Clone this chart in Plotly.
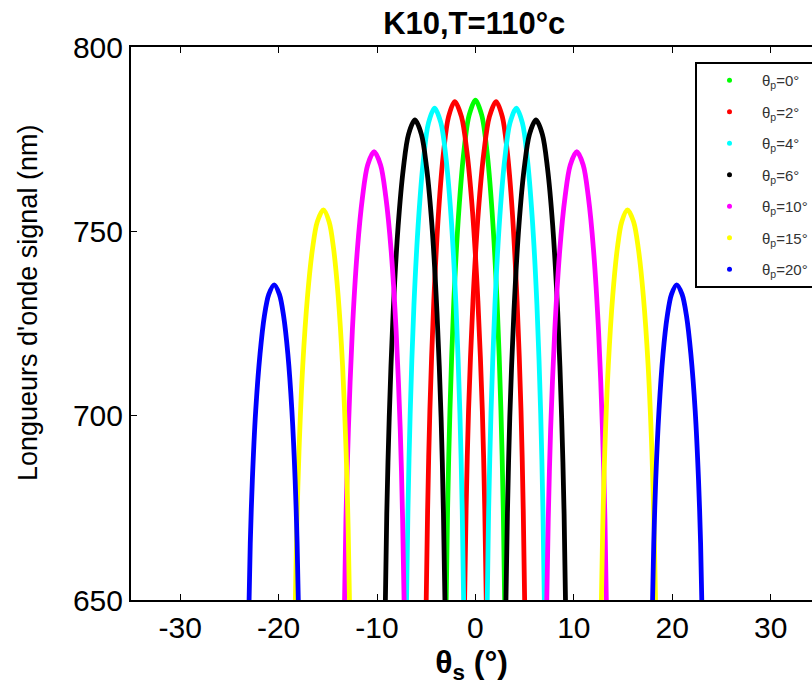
import plotly.graph_objects as go

# Series labels and colours (theta_p values)
names = ["θ<sub>p</sub>=0°", "θ<sub>p</sub>=2°", "θ<sub>p</sub>=4°", "θ<sub>p</sub>=6°",
         "θ<sub>p</sub>=10°", "θ<sub>p</sub>=15°", "θ<sub>p</sub>=20°"]
colors = ["#00ff00", "#ff0000", "#00ffff", "#000000", "#ff00ff", "#ffff00", "#0000ff"]

# Right-hand arch of each series (theta_s in degrees, signal wavelength in nm),
# the left-hand arch is its mirror image (theta_s -> -theta_s).
green_t = [-2.97, -2.83, -2.59, -2.19, -1.68, -1.16, -0.64, 0.0, 0.64, 1.16, 1.68, 2.19, 2.59, 2.83, 2.97]
green_l = [650, 674.4, 701.5, 731.4, 755.8, 772.0, 781.5, 785.6, 781.5, 772.0, 755.8, 731.4, 701.5, 674.4, 650]

red_t = [-1.1, -0.95, -0.7, -0.25, 0.3, 0.87, 1.42, 2.1, 2.73, 3.23, 3.74, 4.23, 4.63, 4.86, 5.0]
red_l = [650, 674.3, 701.4, 731.1, 755.5, 771.7, 781.1, 785.2, 781.1, 771.7, 755.5, 731.1, 701.4, 674.3, 650]

cyan_t = [1.2, 1.34, 1.58, 1.98, 2.48, 3.0, 3.51, 4.15, 4.77, 5.26, 5.76, 6.25, 6.63, 6.86, 7.0]
cyan_l = [650, 674.0, 700.7, 730.0, 754.1, 770.1, 779.4, 783.4, 779.4, 770.1, 754.1, 730.0, 700.7, 674.0, 650]

black_t = [3.1, 3.25, 3.49, 3.91, 4.42, 4.96, 5.49, 6.15, 6.8, 7.32, 7.85, 8.36, 8.76, 9.01, 9.15]
black_l = [650, 673.4, 699.5, 728.1, 751.6, 767.2, 776.3, 780.2, 776.3, 767.2, 751.6, 728.1, 699.5, 673.4, 650]

magenta_t = [7.25, 7.40, 7.64, 8.06, 8.57, 9.11, 9.64, 10.3, 10.95, 11.47, 12.0, 12.51, 12.91, 13.16, 13.3]
magenta_l = [650, 671.9, 696.2, 723.0, 744.9, 759.4, 768.0, 771.6, 768.0, 759.4, 744.9, 723.0, 696.2, 671.9, 650]

yellow_t = [12.8, 12.93, 13.14, 13.5, 13.95, 14.41, 14.87, 15.45, 16.07, 16.56, 17.06, 17.55, 17.93, 18.16, 18.3]
yellow_l = [650, 669.0, 690.2, 713.5, 732.5, 745.2, 752.6, 755.8, 752.6, 745.2, 732.5, 713.5, 690.2, 669.0, 650]

blue_t = [18.0, 18.12, 18.32, 18.65, 19.06, 19.49, 19.92, 20.45, 21.0, 21.45, 21.89, 22.33, 22.67, 22.88, 23.0]
blue_l = [650, 665.4, 682.5, 701.3, 716.7, 727.0, 732.9, 735.5, 732.9, 727.0, 716.7, 701.3, 682.5, 665.4, 650]

series = [(green_t, green_l, False), (red_t, red_l, True), (cyan_t, cyan_l, True),
          (black_t, black_l, True), (magenta_t, magenta_l, True),
          (yellow_t, yellow_l, True), (blue_t, blue_l, True)]

x_ticks = [-30, -20, -10, 0, 10, 20, 30]
x_tick_labels = ["-30", "-20", "-10", "0", "10", "20", "30"]
y_ticks = [650, 700, 750, 800]

fig = go.Figure()
for i, ((t, l, mirrored), name, col) in enumerate(zip(series, names, colors)):
    if mirrored:
        xs = [-v for v in reversed(t)] + [None] + list(t)
        ys = list(reversed(l)) + [None] + list(l)
    else:
        xs, ys = list(t), list(l)
    fig.add_trace(go.Scatter(x=xs, y=ys, mode="lines",
                             line=dict(color=col, width=4.8, shape="spline", smoothing=0.9),
                             showlegend=False, legendgroup=str(i), hoverinfo="skip"))
for i, (name, col) in enumerate(zip(names, colors)):
    fig.add_trace(go.Scatter(x=[None], y=[None], mode="markers", name=name,
                             marker=dict(color=col, size=5), legendgroup=str(i), showlegend=True))

font_family = "Liberation Sans, Arial, sans-serif"
fig.update_layout(
    width=812, height=691,
    margin=dict(l=131, r=0, t=47, b=91, autoexpand=False),
    paper_bgcolor="white", plot_bgcolor="white",
    font=dict(family=font_family, color="black"),
    title=dict(text="<b>K10,T=110°c</b>", xref="paper", x=0.504, xanchor="center",
               yref="container", y=1 - 23 / 691, yanchor="middle",
               font=dict(size=31, family=font_family, color="black")),
    xaxis=dict(range=[-35, 34.2], tickvals=x_ticks, ticktext=x_tick_labels,
               ticks="inside", ticklen=6, tickwidth=1.2,
               tickcolor="black", showline=True, linecolor="black", linewidth=2, mirror="ticks",
               showgrid=False, zeroline=False, tickfont=dict(size=30, family=font_family),
               title=dict(text="<b>θ<sub>s</sub> (°)</b>", font=dict(size=32, family=font_family), standoff=0)),
    yaxis=dict(range=[650, 800], tickvals=y_ticks, ticks="inside", ticklen=6, tickwidth=1.2,
               tickcolor="black", showline=True, linecolor="black", linewidth=2,
               showgrid=False, zeroline=False, tickfont=dict(size=30, family=font_family)),
    annotations=[dict(text="Longueurs d'onde signal (nm)", xref="paper", yref="paper",
                      x=(28 - 131) / 681, y=1 - (303 - 47) / 553, xanchor="center", yanchor="middle",
                      textangle=-90, showarrow=False,
                      font=dict(size=27, family=font_family, color="black"))],
    legend=dict(xref="container", yref="container", x=695 / 812, y=1 - 62 / 691,
                xanchor="left", yanchor="top", bgcolor="white", bordercolor="black", borderwidth=2,
                font=dict(size=15, family=font_family, color="#333333"), itemwidth=55,
                entrywidth=70, entrywidthmode="pixels",
                tracegroupgap=9, traceorder="grouped"),
)

fig.write_html("out.html")
